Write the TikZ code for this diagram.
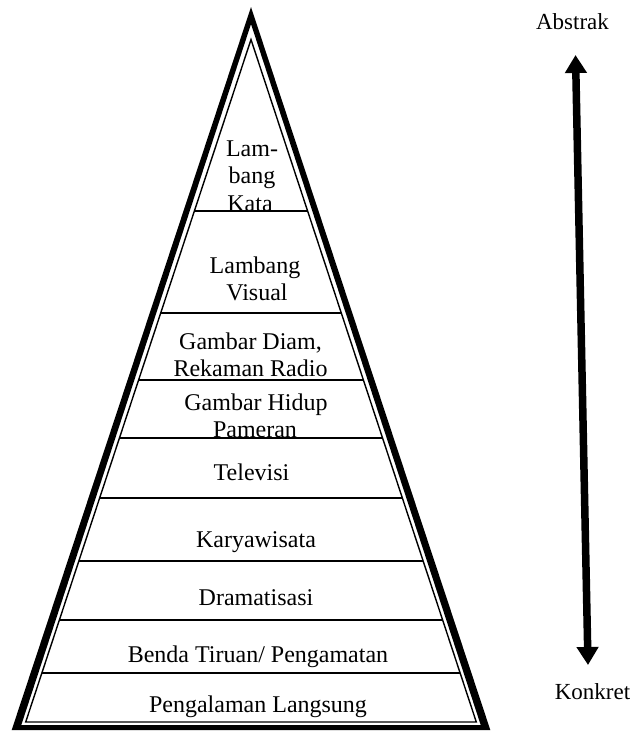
\documentclass[tikz,border=0pt]{standalone}
\usepackage{fontspec}
\setmainfont{Liberation Serif}
\usetikzlibrary{calc,arrows.meta}
\begin{document}
\begin{tikzpicture}[x=1pt,y=-1pt,
  lbl/.style={anchor=base,inner sep=0pt,font=\fontsize{24}{27}\selectfont},
  side/.style={anchor=base,inner sep=0pt,font=\fontsize{23}{27}\selectfont},
  thinline/.style={line width=1.4pt},
  bigarrow/.style={line width=7.5pt,{Triangle[width=21pt,length=18pt]}-{Triangle[width=21pt,length=18pt]}},
]
\useasboundingbox (0,0) rectangle (635,731);
% thick outer frame
\fill[even odd rule] (251,7) -- (11.7,730) -- (490.3,730) -- cycle
                     (251,24) -- (21.3,725) -- (480.7,725) -- cycle;
% thin inner triangle
\coordinate (ap) at (251,39.5);
\coordinate (bl) at (25.7,722);
\coordinate (br) at (476.3,722);
\draw[thinline] (ap) -- (bl) -- (br) -- cycle;
% level lines
\foreach \y in {211,313,380,438,498,561,620,673} {
  \pgfmathsetmacro\tt{(\y-39.5)/682.5}
  \draw[thinline] ($(ap)!\tt!(bl)$) -- ($(ap)!\tt!(br)$);
}
% labels
\node[lbl] (l1a) at (252,156) {Lam-};
\node[lbl] (l1b) at (252,183) {bang};
\node[lbl] (l1c) at (250,211) {Kata};
\node[lbl] (l2a) at (255,273) {Lambang};
\node[lbl] (l2b) at (257,300) {Visual};
\node[lbl] (l3a) at (250.5,349) {Gambar Diam,};
\node[lbl] (l3b) at (250.5,376) {Rekaman Radio};
\node[lbl] (l4a) at (256,410) {Gambar Hidup};
\node[lbl] (l4b) at (255,437) {Pameran};
\node[lbl] (l5) at (251.5,480) {Televisi};
\node[lbl] (l6) at (256,547) {Karyawisata};
\node[lbl] (l7) at (256,605) {Dramatisasi};
\node[lbl] (l8) at (258,662) {Benda Tiruan/ Pengamatan};
\node[lbl] (l9) at (258,712) {Pengalaman Langsung};
\node[side] (abs) at (572.5,29) {Abstrak};
\node[side] (kon) at (592.5,699) {Konkret};
% arrow
\coordinate (atop) at (575.5,55);
\coordinate (abot) at (588,665);
\draw[bigarrow] (atop) -- (abot);
\end{tikzpicture}
\end{document}
